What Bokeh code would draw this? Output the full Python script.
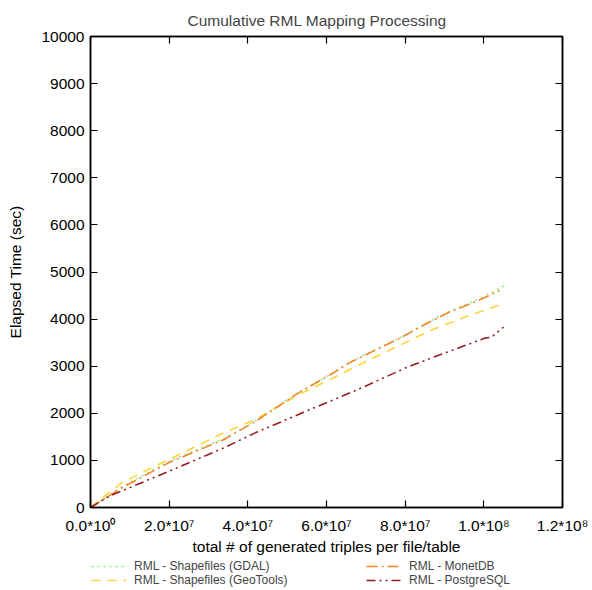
from bokeh.plotting import figure
from bokeh.layouts import column
from bokeh.models import (Range1d, FixedTicker, LinearAxis, Legend, LegendItem)
from bokeh.embed import file_html
from bokeh.resources import INLINE

# ---- data ----
x_gdal = [0, 0.8e7, 2.0e7, 3.4e7, 4.2e7, 5.3e7, 6.1e7, 6.6e7, 7.9e7, 8.5e7, 9.1e7, 9.8e7, 10.6e7]
y_gdal = [0, 440, 980, 1470, 1850, 2450, 2830, 3090, 3620, 3900, 4160, 4400, 4740]

x_geo = [0, 0.8e7, 2.0e7, 3.4e7, 4.2e7, 5.3e7, 6.1e7, 7.0e7, 8.0e7, 8.7e7, 9.55e7, 10.5e7]
y_geo = [0, 530, 1020, 1590, 1870, 2400, 2720, 3100, 3500, 3780, 4055, 4330]

x_monet = [0, 0.8e7, 2.0e7, 3.4e7, 4.2e7, 5.3e7, 6.1e7, 6.6e7, 7.9e7, 8.5e7, 9.1e7, 9.8e7, 10.4e7]
y_monet = [0, 420, 955, 1445, 1830, 2440, 2820, 3080, 3610, 3885, 4140, 4375, 4600]

x_pg = [0, 0.5e7, 2.0e7, 3.4e7, 4.2e7, 5.4e7, 6.8e7, 8.0e7, 8.7e7, 9.4e7, 10.0e7, 10.2e7, 10.5e7]
y_pg = [0, 250, 770, 1270, 1590, 2015, 2505, 2960, 3185, 3400, 3590, 3620, 3830]

x_ticks = [0, 2e7, 4e7, 6e7, 8e7, 1e8, 1.2e8]
x_tick_labels = ["0.0*10\u2070", "2.0*10\u2077", "4.0*10\u2077", "6.0*10\u2077",
                 "8.0*10\u2077", "1.0*10\u2078", "1.2*10\u2078"]
y_ticks = [0, 1000, 2000, 3000, 4000, 5000, 6000, 7000, 8000, 9000, 10000]

labels = ["RML - Shapefiles (GDAL)", "RML - Shapefiles (GeoTools)",
          "RML - MonetDB", "RML - PostgreSQL"]
colors = ["#90ee90", "#fcd43c", "#f7862a", "#961e1e"]
dashes = ["2 4", "9 7", "11 4 2 4", "9 4 2 4 2 4"]

FONT = "Liberation Sans"
FS = "15.5px"

p = figure(frame_width=472, frame_height=471,
           output_backend="svg", toolbar_location=None,
           x_range=Range1d(0, 1.2e8), y_range=Range1d(0, 10000),
           min_border_left=90, min_border_right=28, min_border_top=36,
           min_border_bottom=48, title="Cumulative RML Mapping Processing")

p.title.text_font = FONT
p.title.text_font_size = FS
p.title.text_font_style = "normal"
p.title.align = "left"
p.title.vertical_align = "middle"
p.title.offset = 97
p.title.standoff = 14

p.xgrid.visible = False
p.ygrid.visible = False
p.outline_line_color = "black"
p.outline_line_width = 1.5

def style_axis(ax, show_labels):
    ax.axis_line_color = "black"
    ax.axis_line_width = 1.5
    ax.major_tick_in = 7
    ax.major_tick_out = 0
    ax.major_tick_line_color = "black"
    ax.major_tick_line_width = 1.2
    ax.minor_tick_line_color = None
    ax.major_label_text_font = FONT
    if show_labels:
        ax.major_label_text_font_size = FS
        ax.major_label_text_color = "black"
    else:
        ax.major_label_text_font_size = "1px"
        ax.major_label_text_color = None
    ax.axis_label_text_font = FONT
    ax.axis_label_text_font_size = FS
    ax.axis_label_text_font_style = "normal"
    ax.axis_label_text_color = "black"

xax = p.xaxis[0]
xax.ticker = FixedTicker(ticks=x_ticks)
xax.major_label_overrides = {t: l for t, l in zip(x_ticks, x_tick_labels)}
xax.axis_label = "total # of generated triples per file/table"
xax.major_label_standoff = 9
xax.axis_label_standoff = 1
style_axis(xax, True)

yax = p.yaxis[0]
yax.ticker = FixedTicker(ticks=y_ticks)
yax.axis_label = "Elapsed Time (sec)"
yax.major_label_standoff = 6
yax.axis_label_standoff = 14
style_axis(yax, True)

top = LinearAxis(ticker=FixedTicker(ticks=x_ticks), major_label_standoff=0)
style_axis(top, False)
p.add_layout(top, "above")
right = LinearAxis(ticker=FixedTicker(ticks=y_ticks), major_label_standoff=0)
style_axis(right, False)
p.add_layout(right, "right")

series = [(x_gdal, y_gdal), (x_geo, y_geo), (x_monet, y_monet), (x_pg, y_pg)]
for (xs, ys), c, d in zip(series, colors, dashes):
    p.line(xs, ys, line_color=c, line_width=1.6, line_dash=d)

# key strip below the chart (gnuplot-style key under the x label);
# its ranges lie outside the data so only the key itself is visible
lf = figure(width=591, height=33, output_backend="svg", toolbar_location=None,
            x_axis_type=None, y_axis_type=None, min_border=0,
            x_range=Range1d(-2, -1), y_range=Range1d(-2, -1))
lf.outline_line_color = None
lf.xgrid.visible = False
lf.ygrid.visible = False
items = []
for (xs, ys), lab, c, d in zip(series, labels, colors, dashes):
    r = lf.line(xs, ys, line_color=c, line_width=1.6, line_dash=d)
    items.append(LegendItem(label=lab, renderers=[r]))
leg = Legend(items=items, location=(1, 3), orientation="vertical", nrows=2)
leg.label_text_font = FONT
leg.label_text_font_size = "12px"
leg.label_height = 12
leg.glyph_height = 12
leg.glyph_width = 35
leg.label_standoff = 8
leg.label_width = 232
leg.spacing = 0
leg.padding = 0
leg.margin = 0
leg.border_line_color = None
leg.background_fill_alpha = 0
lf.add_layout(leg, "center")

layout = column(p, lf, spacing=0)
open("out.html", "w").write(file_html(layout, INLINE))
